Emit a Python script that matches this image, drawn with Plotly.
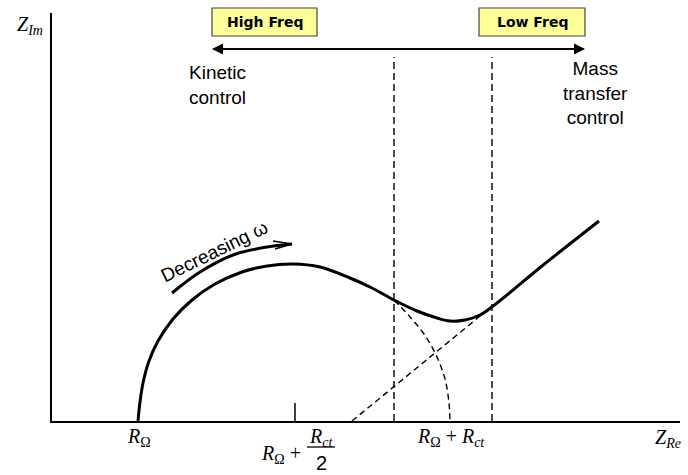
import plotly.graph_objects as go

# ---- Randles-cell Nyquist sketch (arbitrary resistance units) ----
R_OHM = 87          # solution resistance
R_CT = 312          # charge-transfer resistance

# Measured-style trace: kinetic semicircle followed by the Warburg line
z_re = [86, 88, 91, 97, 106, 121, 140, 163, 190, 215, 241, 268, 298, 320,
        342, 365, 385, 398, 413, 428, 445, 490, 547]
z_im = [0, 19, 38, 60, 80, 102, 121, 137, 149, 155, 157, 154, 143, 133,
        121, 110, 103, 100, 101, 106, 118, 155, 200]

# Pure charge-transfer semicircle continued to R_OHM + R_CT
arc_re = [342, 358, 372, 384, 393, 397, 398]
arc_im = [121, 104, 87, 66, 42, 18, 0]

# Extrapolated Warburg line down to the real axis
warb_re = [300, 433]
warb_im = [0, 109]

# Region boundaries (kinetic | mixed | mass transfer)
boundary_re = [342, 440]
boundary_top = 364

# "Decreasing omega" guide arc
guide_re = [120, 148, 181, 215, 240]
guide_im = [128, 149, 166, 174, 177]
guide_head_re = [221, 240, 223]
guide_head_im = [180, 177, 172]

# Frequency arrow
freq_arrow_re = [160, 533]
freq_arrow_im = 372

X_RANGE = [0, 628]
Y_RANGE = [0, 408]


def xp(v):
    return (v - X_RANGE[0]) / (X_RANGE[1] - X_RANGE[0])


def yp(v):
    return (v - Y_RANGE[0]) / (Y_RANGE[1] - Y_RANGE[0])


SANS = "Liberation Sans, Arial, sans-serif"
SERIF = "Liberation Serif, Times New Roman, serif"

fig = go.Figure()

fig.add_trace(go.Scatter(
    x=z_re, y=z_im, mode="lines",
    line=dict(color="black", width=3, shape="spline", smoothing=1.0),
    hoverinfo="skip"))

fig.add_trace(go.Scatter(
    x=arc_re, y=arc_im, mode="lines",
    line=dict(color="black", width=1.4, dash="6px,4px", shape="spline"),
    hoverinfo="skip"))

fig.add_trace(go.Scatter(
    x=warb_re, y=warb_im, mode="lines",
    line=dict(color="black", width=1.4, dash="6px,4px"),
    hoverinfo="skip"))

for bx in boundary_re:
    fig.add_trace(go.Scatter(
        x=[bx, bx], y=[0, boundary_top], mode="lines",
        line=dict(color="black", width=1.4, dash="7px,4px"),
        hoverinfo="skip"))

fig.add_trace(go.Scatter(
    x=guide_re, y=guide_im, mode="lines",
    line=dict(color="black", width=3, shape="spline"),
    hoverinfo="skip"))
fig.add_trace(go.Scatter(
    x=guide_head_re, y=guide_head_im, mode="lines",
    line=dict(color="black", width=1.5),
    hoverinfo="skip"))

# tick at the semicircle centre
mid = R_OHM + R_CT / 2
fig.add_shape(type="line", xref="x", yref="y", x0=mid, x1=mid, y0=0, y1=18,
              line=dict(color="black", width=1.5))

annotations = []

# double-headed frequency arrow: each arrow spans the full width
left, right = freq_arrow_re
for tip, tail in [(left, right), (right, left)]:
    annotations.append(dict(
        x=tip, y=freq_arrow_im, ax=tail, ay=freq_arrow_im,
        xref="x", yref="y", axref="x", ayref="y", text="",
        showarrow=True, arrowhead=2, arrowsize=1.1, arrowwidth=2,
        arrowcolor="black", standoff=0))

# High / Low Freq boxes
for label, x0, x1 in [("High Freq", 160, 265), ("Low Freq", 427, 533)]:
    fig.add_shape(type="rect", xref="paper", yref="paper",
                  x0=xp(x0), x1=xp(x1), y0=yp(385), y1=yp(413),
                  fillcolor="#FFFF99", line=dict(color="#444444", width=1.2),
                  layer="above")
    annotations.append(dict(
        x=xp((x0 + x1) / 2), y=yp(399), xref="paper", yref="paper",
        text="<b>" + label + "</b>", showarrow=False,
        font=dict(family="DejaVu Sans, Verdana, sans-serif", size=14,
                  color="black"),
        xanchor="center", yanchor="middle"))

annotations.append(dict(
    x=135, y=336, xref="x", yref="y", text="Kinetic<br>control",
    showarrow=False, align="left", xanchor="left", yanchor="middle",
    font=dict(family=SANS, size=19, color="black")))
annotations.append(dict(
    x=543, y=328, xref="x", yref="y", text="Mass<br>transfer<br>control",
    showarrow=False, align="center", xanchor="center", yanchor="middle",
    font=dict(family=SANS, size=19, color="black")))
annotations.append(dict(
    x=162, y=170, xref="x", yref="y", text="Decreasing \u03c9",
    showarrow=False, textangle=-26, xanchor="center", yanchor="middle",
    font=dict(family=SANS, size=19, color="black")))

# axis titles
annotations.append(dict(
    x=xp(-22), y=yp(396), xref="paper", yref="paper",
    text="<i>Z</i><sub><i>Im</i></sub>", showarrow=False,
    xanchor="center", yanchor="middle",
    font=dict(family=SERIF, size=20, color="black")))
annotations.append(dict(
    x=xp(616), y=yp(-17), xref="paper", yref="paper",
    text="<i>Z</i><sub><i>Re</i></sub>", showarrow=False,
    xanchor="center", yanchor="middle",
    font=dict(family=SERIF, size=20, color="black")))

# real-axis tick labels
annotations.append(dict(
    x=xp(R_OHM), y=yp(-16), xref="paper", yref="paper",
    text="<i>R</i><sub>\u03a9</sub>", showarrow=False,
    xanchor="center", yanchor="middle",
    font=dict(family=SERIF, size=20, color="black")))
annotations.append(dict(
    x=xp(R_OHM + R_CT), y=yp(-16), xref="paper", yref="paper",
    text="<i>R</i><sub>\u03a9</sub> + <i>R</i><sub><i>ct</i></sub>",
    showarrow=False, xanchor="center", yanchor="middle",
    font=dict(family=SERIF, size=20, color="black")))
annotations.append(dict(
    x=xp(mid), y=yp(-33), xref="paper", yref="paper", xshift=8,
    text="<i>R</i><sub>\u03a9</sub> +", showarrow=False,
    xanchor="right", yanchor="middle",
    font=dict(family=SERIF, size=20, color="black")))
annotations.append(dict(
    x=xp(mid), y=yp(-16), xref="paper", yref="paper", xshift=26,
    text="<i>R</i><sub><i>ct</i></sub>", showarrow=False,
    xanchor="center", yanchor="middle",
    font=dict(family=SERIF, size=20, color="black")))
fig.add_shape(type="line", xref="paper", yref="paper",
              x0=xp(mid + 12), x1=xp(mid + 40), y0=yp(-26), y1=yp(-26),
              line=dict(color="black", width=1.3))
annotations.append(dict(
    x=xp(mid), y=yp(-42), xref="paper", yref="paper", xshift=26,
    text="2", showarrow=False, xanchor="center", yanchor="middle",
    font=dict(family=SANS, size=20, color="black")))

axis_common = dict(showline=True, linecolor="black", linewidth=2,
                   showgrid=False, zeroline=False, showticklabels=False,
                   ticks="", fixedrange=True)

fig.update_layout(
    width=688, height=475,
    margin=dict(l=52, r=8, t=13, b=54),
    paper_bgcolor="white", plot_bgcolor="white",
    showlegend=False,
    xaxis=dict(range=X_RANGE, **axis_common),
    yaxis=dict(range=Y_RANGE, **axis_common),
    annotations=annotations,
)

fig.write_html("out.html")
